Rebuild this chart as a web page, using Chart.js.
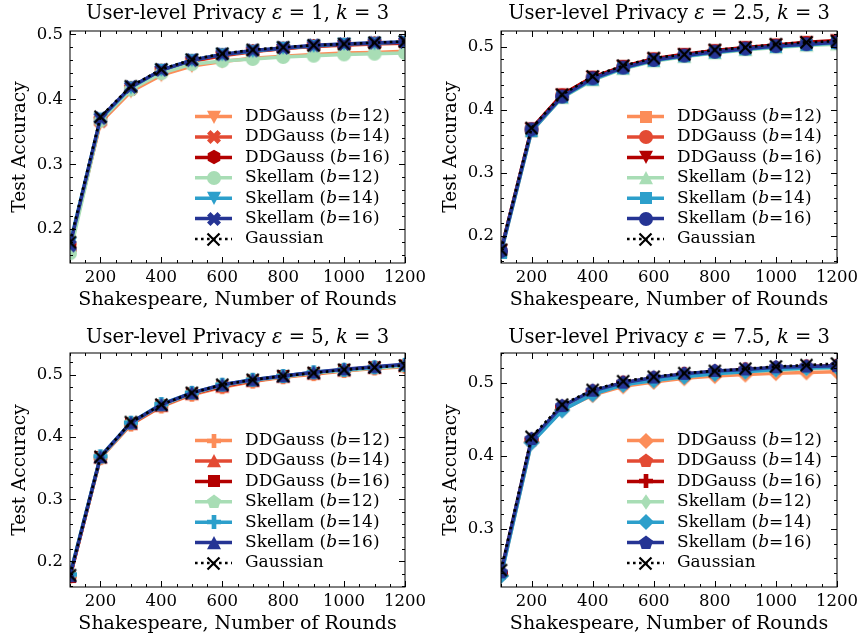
<!DOCTYPE html>
<html>
<head>
<meta charset="utf-8">
<title>Shakespeare user-level privacy</title>
<script src="https://cdn.jsdelivr.net/npm/chart.js@4.4.1/dist/chart.umd.min.js"></script>
<style>
  body { margin: 0; background: #fff; }
  #wrap { position: relative; width: 859px; height: 639px; }
  .panel { position: absolute; width: 430px; height: 320px; }
</style>
</head>
<body>
<div id="wrap">
  <div class="panel" style="left:0;top:0"><canvas id="c1" width="430" height="320"></canvas></div>
  <div class="panel" style="left:430px;top:0"><canvas id="c2" width="430" height="320"></canvas></div>
  <div class="panel" style="left:0;top:320px"><canvas id="c3" width="430" height="320"></canvas></div>
  <div class="panel" style="left:430px;top:320px"><canvas id="c4" width="430" height="320"></canvas></div>
</div>
<script>
// ---- data ----
const rounds = [100, 200, 300, 400, 500, 600, 700, 800, 900, 1000, 1100, 1200];
const seriesNames = ['DDGauss', 'DDGauss', 'DDGauss', 'Skellam', 'Skellam', 'Skellam', 'Gaussian'];
const bitWidths = [12, 14, 16, 12, 14, 16, null];
const seriesColors = ['#fc8d59', '#e34a33', '#b30000', '#a8ddb5', '#2c9fcb', '#253494', '#000000'];
const epsilons = ['1', '2.5', '5', '7.5'];
const xTicks = [200, 400, 600, 800, 1000, 1200];
const yTicksA = [0.2, 0.3, 0.4, 0.5];
const yTicksB = [0.3, 0.4, 0.5];

// eps = 1
const e1DD12 = [0.170, 0.364, 0.412, 0.437, 0.451, 0.458, 0.463, 0.466, 0.469, 0.471, 0.472, 0.474];
const e1DD14 = [0.172, 0.366, 0.416, 0.443, 0.458, 0.467, 0.473, 0.478, 0.481, 0.483, 0.485, 0.486];
const e1DD16 = [0.171, 0.368, 0.417, 0.444, 0.459, 0.468, 0.474, 0.478, 0.482, 0.484, 0.486, 0.487];
const e1SK12 = [0.163, 0.367, 0.415, 0.440, 0.454, 0.459, 0.462, 0.465, 0.467, 0.469, 0.470, 0.471];
const e1SK14 = [0.178, 0.370, 0.418, 0.445, 0.460, 0.469, 0.474, 0.479, 0.482, 0.485, 0.486, 0.488];
const e1SK16 = [0.175, 0.371, 0.419, 0.445, 0.460, 0.469, 0.475, 0.479, 0.483, 0.485, 0.487, 0.488];
const e1Gauss = [0.180, 0.373, 0.420, 0.446, 0.461, 0.470, 0.476, 0.480, 0.483, 0.485, 0.487, 0.489];
// eps = 2.5
const e2DD12 = [0.174, 0.366, 0.420, 0.448, 0.466, 0.478, 0.485, 0.491, 0.496, 0.500, 0.503, 0.505];
const e2DD14 = [0.176, 0.369, 0.423, 0.451, 0.468, 0.480, 0.487, 0.493, 0.498, 0.502, 0.506, 0.508];
const e2DD16 = [0.177, 0.370, 0.424, 0.452, 0.469, 0.481, 0.488, 0.494, 0.499, 0.503, 0.507, 0.510];
const e2SK12 = [0.175, 0.367, 0.419, 0.447, 0.465, 0.477, 0.484, 0.490, 0.495, 0.499, 0.502, 0.504];
const e2SK14 = [0.173, 0.366, 0.420, 0.448, 0.466, 0.478, 0.485, 0.491, 0.496, 0.500, 0.503, 0.506];
const e2SK16 = [0.176, 0.369, 0.421, 0.450, 0.467, 0.479, 0.486, 0.492, 0.497, 0.501, 0.504, 0.507];
const e2Gauss = [0.178, 0.371, 0.424, 0.453, 0.470, 0.482, 0.488, 0.495, 0.499, 0.504, 0.507, 0.509];
// eps = 5
const e3DD12 = [0.176, 0.366, 0.420, 0.449, 0.468, 0.480, 0.489, 0.496, 0.501, 0.506, 0.510, 0.513];
const e3DD14 = [0.177, 0.367, 0.421, 0.450, 0.469, 0.481, 0.490, 0.497, 0.502, 0.507, 0.511, 0.514];
const e3DD16 = [0.175, 0.368, 0.422, 0.451, 0.470, 0.482, 0.491, 0.498, 0.503, 0.508, 0.512, 0.515];
const e3SK12 = [0.178, 0.367, 0.422, 0.451, 0.470, 0.483, 0.491, 0.497, 0.503, 0.507, 0.511, 0.514];
const e3SK14 = [0.179, 0.369, 0.423, 0.453, 0.471, 0.484, 0.492, 0.498, 0.504, 0.508, 0.512, 0.516];
const e3SK16 = [0.177, 0.368, 0.423, 0.452, 0.471, 0.484, 0.492, 0.498, 0.504, 0.509, 0.513, 0.517];
const e3Gauss = [0.178, 0.368, 0.424, 0.452, 0.471, 0.484, 0.492, 0.498, 0.503, 0.508, 0.512, 0.515];
// eps = 7.5
const e4DD12 = [0.237, 0.419, 0.463, 0.483, 0.495, 0.501, 0.506, 0.509, 0.511, 0.513, 0.514, 0.515];
const e4DD14 = [0.239, 0.421, 0.466, 0.487, 0.499, 0.505, 0.510, 0.514, 0.517, 0.519, 0.521, 0.522];
const e4DD16 = [0.240, 0.422, 0.467, 0.488, 0.500, 0.506, 0.512, 0.515, 0.518, 0.520, 0.522, 0.523];
const e4SK12 = [0.238, 0.420, 0.464, 0.485, 0.497, 0.503, 0.508, 0.512, 0.515, 0.517, 0.519, 0.520];
const e4SK14 = [0.236, 0.418, 0.462, 0.484, 0.497, 0.503, 0.508, 0.512, 0.515, 0.518, 0.520, 0.521];
const e4SK16 = [0.241, 0.423, 0.468, 0.489, 0.500, 0.507, 0.512, 0.516, 0.518, 0.521, 0.522, 0.523];
const e4Gauss = [0.244, 0.426, 0.470, 0.490, 0.502, 0.508, 0.513, 0.516, 0.519, 0.522, 0.524, 0.526];

const SERIF = '"DejaVu Serif", "Liberation Serif", serif';
Chart.defaults.font.family = SERIF;
Chart.defaults.font.size = 16.5;
Chart.defaults.color = '#000';

// matplotlib-like filled markers drawn into small canvases
function markerCanvas(shape, color, s) {
  const size = Math.ceil(s * 1.4) + 4;
  const c = document.createElement('canvas');
  c.width = size; c.height = size;
  const g = c.getContext('2d');
  g.translate(size / 2, size / 2);
  g.fillStyle = color;
  g.strokeStyle = color;
  const poly = pts => {
    g.beginPath();
    pts.forEach(([px, py], i) => i ? g.lineTo(px * s, py * s) : g.moveTo(px * s, py * s));
    g.closePath();
    g.fill();
  };
  const ngon = (n, rad) => {
    const pts = [];
    for (let i = 0; i < n; i++) {
      const t = i * 2 * Math.PI / n;
      pts.push([rad * Math.sin(t), -rad * Math.cos(t)]);
    }
    poly(pts);
  };
  switch (shape) {
    case 'o': g.beginPath(); g.arc(0, 0, s / 2, 0, 2 * Math.PI); g.fill(); break;
    case 'v': poly([[0, 0.5], [-0.5, -0.45], [0.5, -0.45]]); break;
    case '^': poly([[0, -0.5], [-0.5, 0.45], [0.5, 0.45]]); break;
    case 's': poly([[-0.43, -0.43], [0.43, -0.43], [0.43, 0.43], [-0.43, 0.43]]); break;
    case 'D': poly([[0, -0.58], [0.58, 0], [0, 0.58], [-0.58, 0]]); break;
    case 'd': poly([[0, -0.55], [0.38, 0], [0, 0.55], [-0.38, 0]]); break;
    case 'p': ngon(5, 0.53); break;
    case 'h': ngon(6, 0.52); break;
    case 'P': poly([[-1, -3], [1, -3], [1, -1], [3, -1], [3, 1], [1, 1], [1, 3], [-1, 3], [-1, 1], [-3, 1], [-3, -1], [-1, -1]].map(([a, b]) => [a / 6, b / 6])); break;
    case 'X': poly([[-1, -2], [0, -1], [1, -2], [2, -1], [1, 0], [2, 1], [1, 2], [0, 1], [-1, 2], [-2, 1], [-1, 0], [-2, -1]].map(([a, b]) => [a / 4, b / 4])); break;
    case 'x': {
      const r = s / 2;
      g.lineWidth = 2.2;
      g.beginPath();
      g.moveTo(-r, -r); g.lineTo(r, r);
      g.moveTo(r, -r); g.lineTo(-r, r);
      g.stroke();
      break;
    }
  }
  return c;
}

function drawRich(ctx, x, y, segs, size, align, baseline) {
  const fonts = segs.map(sg => (sg[1] ? 'italic ' : '') + size + 'px ' + SERIF);
  let w = 0;
  segs.forEach((sg, k) => { ctx.font = fonts[k]; w += ctx.measureText(sg[0]).width; });
  let cx = align === 'center' ? x - w / 2 : x;
  ctx.textAlign = 'left';
  ctx.textBaseline = baseline;
  ctx.fillStyle = '#000';
  segs.forEach((sg, k) => {
    ctx.font = fonts[k];
    ctx.fillText(sg[0], cx, y);
    cx += ctx.measureText(sg[0]).width;
  });
}

// frame, inward ticks on four sides, title and legend
const decor = {
  id: 'decor',
  afterDraw(chart, args, o) {
    const { ctx, chartArea: a, scales: { x, y } } = chart;
    ctx.save();
    ctx.strokeStyle = '#000';
    ctx.lineWidth = 1;
    ctx.strokeRect(a.left, a.top, a.right - a.left, a.bottom - a.top);

    const xMinor = [];
    for (let v = 100; v <= 1200; v += 50) if (!xTicks.includes(v)) xMinor.push(v);
    const yMinor = [];
    for (let k = Math.ceil(y.min * 50); k <= Math.floor(y.max * 50); k++) if (k % 5 !== 0) yMinor.push(k / 50);

    ctx.beginPath();
    const xt = (v, len) => {
      const p = Math.round(x.getPixelForValue(v)) + 0.5;
      ctx.moveTo(p, a.bottom); ctx.lineTo(p, a.bottom - len);
      ctx.moveTo(p, a.top); ctx.lineTo(p, a.top + len);
    };
    const yt = (v, len) => {
      const p = Math.round(y.getPixelForValue(v)) + 0.5;
      ctx.moveTo(a.left, p); ctx.lineTo(a.left + len, p);
      ctx.moveTo(a.right, p); ctx.lineTo(a.right - len, p);
    };
    xTicks.forEach(v => xt(v, 6));
    xMinor.forEach(v => xt(v, 3));
    o.yTicks.forEach(v => yt(v, 6));
    yMinor.forEach(v => yt(v, 3));
    ctx.stroke();

    drawRich(ctx, (a.left + a.right) / 2, a.top - o.titleGap,
      [['User-level Privacy ', false], ['ε', true], [' = ' + o.eps + ', ', false], ['k', true], [' = 3', false]],
      19.5, 'center', 'alphabetic');

    const dsets = chart.data.datasets;
    const n = dsets.length;
    dsets.forEach((ds, i) => {
      const yy = a.bottom - 24 - (n - 1 - i) * 20.4;
      const x0 = a.right - 210, x1 = a.right - 173;
      ctx.strokeStyle = ds.borderColor;
      ctx.lineWidth = ds.borderWidth;
      ctx.setLineDash(ds.borderDash || []);
      ctx.beginPath(); ctx.moveTo(x0, yy); ctx.lineTo(x1, yy); ctx.stroke();
      ctx.setLineDash([]);
      const img = ds.pointStyle;
      ctx.drawImage(img, Math.round((x0 + x1) / 2 - img.width / 2), Math.round(yy - img.height / 2));
      const segs = bitWidths[i] === null
        ? [[seriesNames[i], false]]
        : [[seriesNames[i] + ' (', false], ['b', true], ['=' + bitWidths[i] + ')', false]];
      drawRich(ctx, a.right - 160, yy, segs, 17, 'left', 'middle');
    });
    ctx.restore();
  }
};

function buildPanel(id, p) {
  const datasets = p.series.map((vals, i) => {
    const gauss = i === 6;
    return {
      label: seriesNames[i] + (bitWidths[i] ? ' (b=' + bitWidths[i] + ')' : ''),
      data: rounds.map((r, j) => ({ x: r, y: vals[j] })),
      borderColor: seriesColors[i],
      backgroundColor: seriesColors[i],
      borderWidth: gauss ? 2.6 : 3.5,
      borderDash: gauss ? [2.6, 3.4] : [],
      pointStyle: markerCanvas(p.markers[i], seriesColors[i], gauss ? 12 : 14),
      pointRadius: 6,
      tension: 0,
      clip: 0,
      order: 6 - i
    };
  });
  new Chart(document.getElementById(id), {
    type: 'line',
    data: { datasets },
    options: {
      responsive: false,
      animation: false,
      events: [],
      layout: { padding: { left: 0, right: p.padRight, top: p.padTop, bottom: 0 } },
      plugins: {
        legend: { display: false },
        tooltip: { enabled: false },
        decor: { eps: p.eps, yTicks: p.yTicks, titleGap: p.titleGap }
      },
      scales: {
        x: {
          type: 'linear',
          min: 100,
          max: 1200,
          grid: { display: false, drawTicks: false },
          border: { display: false },
          ticks: { padding: 5, maxRotation: 0, autoSkip: false, callback: v => String(v) },
          afterBuildTicks: s => { s.ticks = xTicks.map(v => ({ value: v })); },
          afterFit: s => { s.height = p.xHeight; s.paddingLeft = 0; s.paddingRight = 0; },
          title: { display: true, text: 'Shakespeare, Number of Rounds', font: { size: 19 }, padding: { top: 0, bottom: p.xTitlePad } }
        },
        y: {
          type: 'linear',
          min: p.yMin,
          max: p.yMax,
          grid: { display: false, drawTicks: false },
          border: { display: false },
          ticks: { padding: 7, callback: v => v.toFixed(1) },
          afterBuildTicks: s => { s.ticks = p.yTicks.map(v => ({ value: v })); },
          afterFit: s => { s.width = p.yWidth; s.paddingTop = 0; s.paddingBottom = 0; },
          title: { display: true, text: 'Test Accuracy', font: { size: 18.5 }, padding: { top: p.yTitlePad, bottom: 0 } }
        }
      }
    },
    plugins: [decor]
  });
}

buildPanel('c1', {
  eps: epsilons[0], series: [e1DD12, e1DD14, e1DD16, e1SK12, e1SK14, e1SK16, e1Gauss],
  markers: ['v', 'X', 'h', 'o', 'v', 'X', 'x'],
  yMin: 0.148, yMax: 0.505, yTicks: yTicksA,
  yWidth: 70, padRight: 25, padTop: 31, xHeight: 57, titleGap: 12.5, xTitlePad: 8.6, yTitlePad: 8.6
});
buildPanel('c2', {
  eps: epsilons[1], series: [e2DD12, e2DD14, e2DD16, e2SK12, e2SK14, e2SK16, e2Gauss],
  markers: ['s', 'o', 'v', '^', 's', 'o', 'x'],
  yMin: 0.157, yMax: 0.525, yTicks: yTicksA,
  yWidth: 71, padRight: 23, padTop: 31, xHeight: 57, titleGap: 12.5, xTitlePad: 8.6, yTitlePad: 10.3
});
buildPanel('c3', {
  eps: epsilons[2], series: [e3DD12, e3DD14, e3DD16, e3SK12, e3SK14, e3SK16, e3Gauss],
  markers: ['P', '^', 's', 'p', 'P', '^', 'x'],
  yMin: 0.159, yMax: 0.535, yTicks: yTicksA,
  yWidth: 70, padRight: 25, padTop: 33, xHeight: 53, titleGap: 10.3, xTitlePad: 4.6, yTitlePad: 8.6
});
buildPanel('c4', {
  eps: epsilons[3], series: [e4DD12, e4DD14, e4DD16, e4SK12, e4SK14, e4SK16, e4Gauss],
  markers: ['D', 'p', 'P', 'd', 'D', 'p', 'x'],
  yMin: 0.221, yMax: 0.5405, yTicks: yTicksB,
  yWidth: 71, padRight: 23, padTop: 33, xHeight: 53, titleGap: 10.3, xTitlePad: 4.6, yTitlePad: 10.3
});
</script>
</body>
</html>
